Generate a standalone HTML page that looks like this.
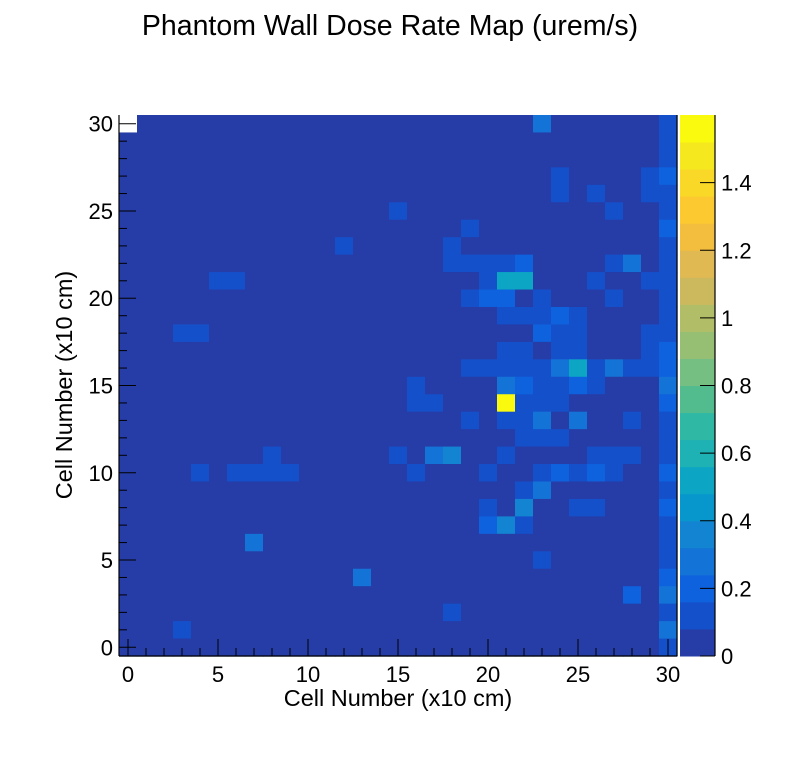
<!DOCTYPE html>
<html><head><meta charset="utf-8">
<style>
html,body{margin:0;padding:0;background:#fff;}
svg text{font-family:"Liberation Sans",sans-serif;fill:#000;}
</style></head>
<body>
<svg id="chart" width="796" height="772" viewBox="0 0 796 772" xmlns="http://www.w3.org/2000/svg">
<rect x="0" y="0" width="796" height="772" fill="#fff"/>
<text x="390" y="35" font-size="28.5" text-anchor="middle">Phantom Wall Dose Rate Map (urem/s)</text>
<g id="cells"></g>
<g id="axes"></g>
<g id="cbar"></g>
<text x="398" y="706" font-size="23.5" text-anchor="middle">Cell Number (x10 cm)</text>
<text x="0" y="0" font-size="23.5" text-anchor="middle" transform="translate(72,385) rotate(-90)">Cell Number (x10 cm)</text>
</svg>
<script>
// rows listed from y=30 (top) down to y=0; columns x=0..30
const zRows = [
[0,.04,.04,.04,.04,.04,.04,.04,.04,.04,.04,.04,.04,.04,.04,.04,.04,.04,.04,.04,.04,.04,.04,.28,.04,.04,.04,.04,.04,.04,.12],
[.04,.04,.04,.04,.04,.04,.04,.04,.04,.04,.04,.04,.04,.04,.04,.04,.04,.04,.04,.04,.04,.04,.04,.04,.04,.04,.04,.04,.04,.04,.12],
[.04,.04,.04,.04,.04,.04,.04,.04,.04,.04,.04,.04,.04,.04,.04,.04,.04,.04,.04,.04,.04,.04,.04,.04,.04,.04,.04,.04,.04,.04,.12],
[.04,.04,.04,.04,.04,.04,.04,.04,.04,.04,.04,.04,.04,.04,.04,.04,.04,.04,.04,.04,.04,.04,.04,.04,.12,.04,.04,.04,.04,.12,.2],
[.04,.04,.04,.04,.04,.04,.04,.04,.04,.04,.04,.04,.04,.04,.04,.04,.04,.04,.04,.04,.04,.04,.04,.04,.12,.04,.12,.04,.04,.12,.12],
[.04,.04,.04,.04,.04,.04,.04,.04,.04,.04,.04,.04,.04,.04,.04,.12,.04,.04,.04,.04,.04,.04,.04,.04,.04,.04,.04,.12,.04,.04,.12],
[.04,.04,.04,.04,.04,.04,.04,.04,.04,.04,.04,.04,.04,.04,.04,.04,.04,.04,.04,.12,.04,.04,.04,.04,.04,.04,.04,.04,.04,.04,.2],
[.04,.04,.04,.04,.04,.04,.04,.04,.04,.04,.04,.04,.12,.04,.04,.04,.04,.04,.12,.04,.04,.04,.04,.04,.04,.04,.04,.04,.04,.04,.12],
[.04,.04,.04,.04,.04,.04,.04,.04,.04,.04,.04,.04,.04,.04,.04,.04,.04,.04,.12,.12,.12,.12,.2,.04,.04,.04,.04,.12,.28,.04,.12],
[.04,.04,.04,.04,.04,.12,.12,.04,.04,.04,.04,.04,.04,.04,.04,.04,.04,.04,.04,.04,.12,.52,.52,.04,.04,.04,.12,.04,.04,.12,.12],
[.04,.04,.04,.04,.04,.04,.04,.04,.04,.04,.04,.04,.04,.04,.04,.04,.04,.04,.04,.12,.2,.2,.04,.12,.04,.04,.04,.12,.04,.04,.12],
[.04,.04,.04,.04,.04,.04,.04,.04,.04,.04,.04,.04,.04,.04,.04,.04,.04,.04,.04,.04,.04,.12,.12,.12,.2,.12,.04,.04,.04,.04,.12],
[.04,.04,.04,.12,.12,.04,.04,.04,.04,.04,.04,.04,.04,.04,.04,.04,.04,.04,.04,.04,.04,.04,.04,.2,.12,.12,.04,.04,.04,.12,.12],
[.04,.04,.04,.04,.04,.04,.04,.04,.04,.04,.04,.04,.04,.04,.04,.04,.04,.04,.04,.04,.04,.12,.12,.04,.12,.12,.04,.04,.04,.12,.2],
[.04,.04,.04,.04,.04,.04,.04,.04,.04,.04,.04,.04,.04,.04,.04,.04,.04,.04,.04,.12,.12,.12,.12,.12,.28,.52,.12,.28,.12,.12,.2],
[.04,.04,.04,.04,.04,.04,.04,.04,.04,.04,.04,.04,.04,.04,.04,.04,.12,.04,.04,.04,.04,.28,.2,.12,.12,.2,.12,.04,.04,.04,.28],
[.04,.04,.04,.04,.04,.04,.04,.04,.04,.04,.04,.04,.04,.04,.04,.04,.12,.12,.04,.04,.04,1.56,.12,.12,.12,.04,.04,.04,.04,.04,.2],
[.04,.04,.04,.04,.04,.04,.04,.04,.04,.04,.04,.04,.04,.04,.04,.04,.04,.04,.04,.12,.04,.12,.12,.28,.04,.28,.04,.04,.12,.04,.12],
[.04,.04,.04,.04,.04,.04,.04,.04,.04,.04,.04,.04,.04,.04,.04,.04,.04,.04,.04,.04,.04,.04,.12,.12,.12,.04,.04,.04,.04,.04,.12],
[.04,.04,.04,.04,.04,.04,.04,.04,.12,.04,.04,.04,.04,.04,.04,.12,.04,.28,.36,.04,.04,.12,.04,.04,.04,.04,.12,.12,.12,.04,.12],
[.04,.04,.04,.04,.12,.04,.12,.12,.12,.12,.04,.04,.04,.04,.04,.04,.12,.04,.04,.04,.12,.04,.04,.12,.2,.12,.2,.12,.04,.04,.2],
[.04,.04,.04,.04,.04,.04,.04,.04,.04,.04,.04,.04,.04,.04,.04,.04,.04,.04,.04,.04,.04,.04,.12,.28,.04,.04,.04,.04,.04,.04,.12],
[.04,.04,.04,.04,.04,.04,.04,.04,.04,.04,.04,.04,.04,.04,.04,.04,.04,.04,.04,.04,.12,.04,.36,.04,.04,.12,.12,.04,.04,.04,.2],
[.04,.04,.04,.04,.04,.04,.04,.04,.04,.04,.04,.04,.04,.04,.04,.04,.04,.04,.04,.04,.2,.36,.12,.04,.04,.04,.04,.04,.04,.04,.12],
[.04,.04,.04,.04,.04,.04,.04,.28,.04,.04,.04,.04,.04,.04,.04,.04,.04,.04,.04,.04,.04,.04,.04,.04,.04,.04,.04,.04,.04,.04,.12],
[.04,.04,.04,.04,.04,.04,.04,.04,.04,.04,.04,.04,.04,.04,.04,.04,.04,.04,.04,.04,.04,.04,.04,.12,.04,.04,.04,.04,.04,.04,.12],
[.04,.04,.04,.04,.04,.04,.04,.04,.04,.04,.04,.04,.04,.28,.04,.04,.04,.04,.04,.04,.04,.04,.04,.04,.04,.04,.04,.04,.04,.04,.2],
[.04,.04,.04,.04,.04,.04,.04,.04,.04,.04,.04,.04,.04,.04,.04,.04,.04,.04,.04,.04,.04,.04,.04,.04,.04,.04,.04,.04,.2,.04,.28],
[.04,.04,.04,.04,.04,.04,.04,.04,.04,.04,.04,.04,.04,.04,.04,.04,.04,.04,.12,.04,.04,.04,.04,.04,.04,.04,.04,.04,.04,.04,.12],
[.04,.04,.04,.12,.04,.04,.04,.04,.04,.04,.04,.04,.04,.04,.04,.04,.04,.04,.04,.04,.04,.04,.04,.04,.04,.04,.04,.04,.04,.04,.28],
[.04,.04,.04,.04,.04,.04,.04,.04,.04,.04,.04,.04,.04,.04,.04,.04,.04,.04,.04,.04,.04,.04,.04,.04,.04,.04,.04,.04,.04,.04,.12]
];
const xTickLabels = ["0","5","10","15","20","25","30"];
const yTickLabels = ["0","5","10","15","20","25","30"];
const zTickLabels = ["0","0.2","0.4","0.6","0.8","1","1.2","1.4"];
const zMax = 1.6;
const palette = ["#263ca6","#1550cb","#0e62de","#1473d6","#1384d1","#0797cd","#0ca6c4","#1eb2b5","#2fb9a4","#52bc8f","#76bf83","#96bf73","#b2bd67","#ccb95e","#e1b953","#f3be3e","#fdc930","#f9d827","#f5e81e","#f9fa0e"];

const NS="http://www.w3.org/2000/svg";
const PX0=119, PX1=677, PY0=656, PY1=115;
const nX=31, nY=31;
const cw=(PX1-PX0)/nX, ch=(PY0-PY1)/nY;
function xCell(i){return PX0+i*cw;}
function yCell(j){return PY0-(j+1)*ch;}
function xVal(v){return PX0+(v+0.5)*cw;}
function yVal(v){return PY0-(v+0.5)*ch;}
const CB0=656, CB1=115;
function zY(z){return CB0-(z/zMax)*(CB0-CB1);}
function colorFor(v){let b=Math.floor(v/(zMax/palette.length));if(b<0)b=0;if(b>=palette.length)b=palette.length-1;return palette[b];}
function mk(tag,attrs,parent){const e=document.createElementNS(NS,tag);for(const k in attrs)e.setAttribute(k,attrs[k]);parent.appendChild(e);return e;}

const cells=document.getElementById('cells');
zRows.forEach((row,r)=>{
  const j=nY-1-r;
  row.forEach((v,i)=>{
    if(v<=0)return;
    const el=mk('rect',{x:xCell(i).toFixed(2),y:yCell(j).toFixed(2),width:(cw+0.6).toFixed(2),height:(ch+0.6).toFixed(2),fill:colorFor(v)},cells);
    
    
  });
});

const axes=document.getElementById('axes');
let fl=mk('line',{x1:PX0,y1:PY1,x2:PX0,y2:PY0,stroke:'#000','stroke-width':1.2},axes);

fl=mk('line',{x1:PX0,y1:PY0,x2:PX1,y2:PY0,stroke:'#000','stroke-width':1.2},axes);

fl=mk('line',{x1:PX1,y1:PY1,x2:PX1,y2:PY0,stroke:'#000','stroke-width':1.2},axes);

for(let v=0;v<=30;v++){
  const major=v%5===0;
  const L=major?17:8;
  let t=mk('line',{x1:xVal(v),y1:PY0,x2:xVal(v),y2:PY0-L,stroke:'#000','stroke-width':1},axes);
  
  t=mk('line',{x1:PX0,y1:yVal(v),x2:PX0+L,y2:yVal(v),stroke:'#000','stroke-width':1},axes);
  
}
xTickLabels.forEach(s=>{
  const v=parseFloat(s);
  const t=mk('text',{x:xVal(v),y:682,'font-size':22,'text-anchor':'middle'},axes);
  t.textContent=s;
  
});
yTickLabels.forEach(s=>{
  const v=parseFloat(s);
  const t=mk('text',{x:113,y:yVal(v)+8,'font-size':22,'text-anchor':'end'},axes);
  t.textContent=s;
  
});

const cbar=document.getElementById('cbar');
const bh=(CB0-CB1)/palette.length;
palette.forEach((c,k)=>{
  const r=mk('rect',{x:680,y:(CB0-(k+1)*bh).toFixed(2),width:35,height:(bh+0.5).toFixed(2),fill:c},cbar);
  
});
let ax=mk('line',{x1:715,y1:CB1,x2:715,y2:CB0,stroke:'#000','stroke-width':1.2},cbar);

zTickLabels.forEach(s=>{
  const z=parseFloat(s);
  const y=zY(z);
  let t=mk('line',{x1:700,y1:y,x2:715,y2:y,stroke:'#000','stroke-width':1},cbar);
  
  t=mk('text',{x:721,y:y+8,'font-size':22},cbar);
  t.textContent=s;
  
});
</script>
</body></html>
